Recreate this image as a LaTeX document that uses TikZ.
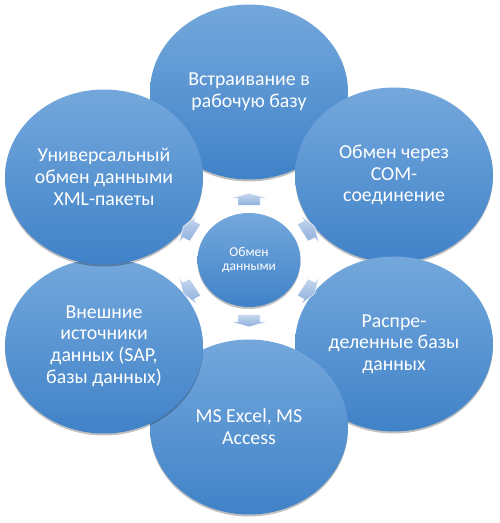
\documentclass[tikz,border=0pt]{standalone}
\usepackage{fontspec}
\setmainfont{Carlito}
\usetikzlibrary{shapes.geometric,shadows}
\definecolor{bubbletop}{RGB}{116,168,220}
\definecolor{bubblebot}{RGB}{64,130,200}
\definecolor{arrtop}{RGB}{200,216,238}
\definecolor{arrbot}{RGB}{140,174,220}
\tikzset{
	bubble/.style={ellipse, minimum width=198pt, minimum height=175pt, inner sep=0pt, top color=bubbletop, bottom color=bubblebot, text=white, align=center, font=\fontsize{19.8}{21.7}\selectfont, drop shadow={shadow xshift=0pt, shadow yshift=-2pt, opacity=0.25, fill=black}},
	hub/.style={bubble, minimum width=103pt, minimum height=94pt, font=\fontsize{13.5}{14.5}\selectfont},
	flowarrow/.style={top color=arrtop, bottom color=arrbot, draw=white, line width=0.4pt, line join=round}
}
\begin{document}
\begin{tikzpicture}[x=1pt, y=1pt]
			\useasboundingbox (0,0) rectangle (500,523);
			\node[bubble] (embed) at (249,431) {Встраивание в\\рабочую базу};
			\node[bubble] (com) at (394,348) {Обмен через\\COM-\\соединение};
			\node[bubble] (distrib) at (394,179) {Распре-\\деленные базы\\данных};
			\node[bubble] (office) at (249,96) {MS Excel, MS\\Access};
			\node[bubble] (external) at (104,177) {Внешние\\источники\\данных (SAP,\\базы данных)};
			\node[bubble] (xml) at (104,346) {Универсальный\\обмен данными\\XML-пакеты};
			\node[hub] (hub) at (249,263) {Обмен\\данными};
			\foreach \ang in {90,30,-30,-90,-150,150}
				\draw[flowarrow, shift={(hub.center)}, yscale=0.88, rotate=\ang] (62,-11)--(70,-11)--(70,-18.5)--(76,0)--(70,18.5)--(70,11)--(62,11)--cycle;
		\end{tikzpicture}
\end{document}
